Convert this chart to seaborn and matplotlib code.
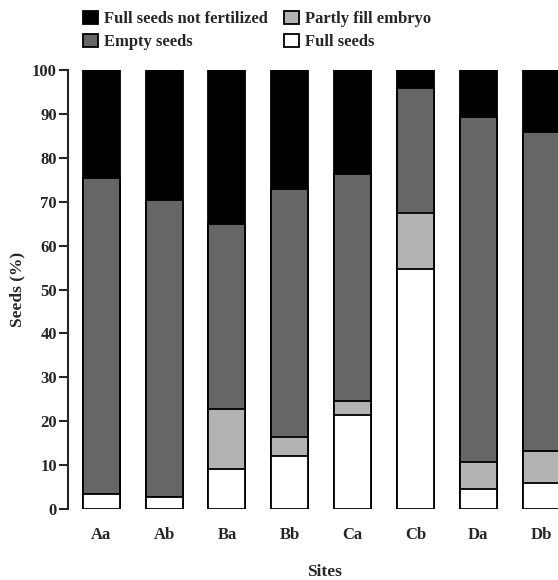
import matplotlib
matplotlib.use("Agg")
import matplotlib.pyplot as plt
from matplotlib.patches import Patch
import seaborn as sns
import numpy as np
import pandas as pd

sites = ["Aa", "Ab", "Ba", "Bb", "Ca", "Cb", "Da", "Db"]
full_seeds = [3.4, 2.8, 9.2, 12.0, 21.5, 54.6, 4.5, 5.9]
partly_fill = [0.0, 0.0, 13.6, 4.3, 3.2, 12.8, 6.2, 7.2]
empty_seeds = [71.9, 67.5, 42.1, 56.6, 51.5, 28.4, 78.6, 72.8]
not_fertilized = [24.7, 29.7, 35.1, 27.1, 23.8, 4.2, 10.7, 14.1]

series_names = ["Full seeds not fertilized", "Empty seeds", "Partly fill embryo", "Full seeds"]
colors = {"Full seeds not fertilized": "#000000", "Empty seeds": "#666666",
          "Partly fill embryo": "#b3b3b3", "Full seeds": "#ffffff"}

sns.set_theme(style="ticks")
plt.rcParams['font.family'] = ['Liberation Serif', 'DejaVu Serif']
plt.rcParams['font.weight'] = 'bold'

fs = np.array(full_seeds)
pf = np.array(partly_fill)
es = np.array(empty_seeds)
nf = np.array(not_fertilized)
cum = {
    "Full seeds not fertilized": fs + pf + es + nf,
    "Empty seeds": fs + pf + es,
    "Partly fill embryo": fs + pf,
    "Full seeds": fs,
}

fig = plt.figure(figsize=(5.58, 5.80), dpi=100)
ax = fig.add_axes([68/558, 1 - 509/580, (580 - 68)/558, (509 - 70)/580])

for name in series_names:
    df = pd.DataFrame({"site": sites, "value": cum[name]})
    sns.barplot(data=df, x="site", y="value", order=sites, color=colors[name],
                edgecolor="black", linewidth=1.3, width=0.59, ax=ax,
                saturation=1, errorbar=None)

ax.set_ylim(0, 100)
ax.set_xlim(-0.53, 7.62)
ax.set_yticks(range(0, 101, 10))
ax.tick_params(axis="y", length=6.5, width=1.5, pad=1.5, labelsize=12)
ax.tick_params(axis="x", length=0, pad=13, labelsize=12)
for lab in ax.get_xticklabels() + ax.get_yticklabels():
    lab.set_fontweight("bold")
for s in ["top", "right", "bottom"]:
    ax.spines[s].set_visible(False)
ax.spines["left"].set_linewidth(1.5)
ax.set_ylabel("Seeds (%)", fontsize=12.5, fontweight="bold", labelpad=5)
ax.set_xlabel("Sites", fontsize=12.5, fontweight="bold", labelpad=15)

handles = [Patch(facecolor=colors[n], edgecolor="black", linewidth=1.3, label=n) for n in series_names]
fig.legend(handles=handles, ncol=2, loc="upper left", bbox_to_anchor=(83/558, 1 - 11/580),
           frameon=False, handlelength=0.9, handleheight=0.8, borderaxespad=0, borderpad=0,
           handletextpad=0.35, columnspacing=1.0, labelspacing=0.42,
           prop={"weight": "bold", "size": 12})

fig.savefig("out.png", dpi=100)
